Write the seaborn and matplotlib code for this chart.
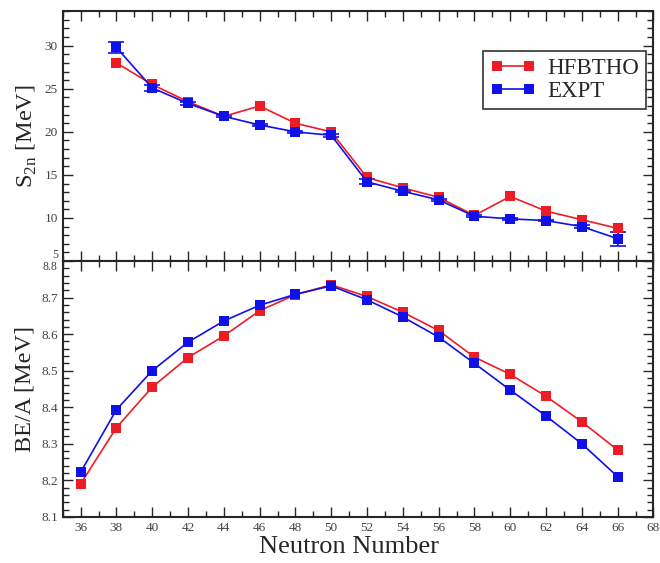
import numpy as np
import pandas as pd
import matplotlib
matplotlib.use("Agg")
import matplotlib.pyplot as plt
import seaborn as sns
from matplotlib.ticker import MultipleLocator

# Two-neutron separation energies (MeV), N = 38..66
n_s2n = [38, 40, 42, 44, 46, 48, 50, 52, 54, 56, 58, 60, 62, 64, 66]
s2n_hfbtho = [28.0, 25.5, 23.5, 21.8, 23.0, 21.0, 20.0, 14.7, 13.5, 12.4, 10.3, 12.5, 10.8, 9.8, 8.8]
s2n_expt = [29.8, 25.1, 23.3, 21.8, 20.8, 20.0, 19.6, 14.2, 13.1, 12.1, 10.2, 9.9, 9.7, 9.0, 7.6]
s2n_expt_err = [0.6, 0.3, 0.2, 0.1, 0.1, 0.1, 0.2, 0.3, 0.1, 0.1, 0.1, 0.1, 0.1, 0.2, 0.8]

# Binding energy per nucleon (MeV), N = 36..66
n_bea = [36, 38, 40, 42, 44, 46, 48, 50, 52, 54, 56, 58, 60, 62, 64, 66]
bea_hfbtho = [8.190, 8.344, 8.455, 8.536, 8.595, 8.664, 8.708, 8.735, 8.703, 8.660,
              8.610, 8.537, 8.490, 8.430, 8.360, 8.283]
bea_expt = [8.222, 8.393, 8.500, 8.578, 8.636, 8.679, 8.709, 8.732, 8.694, 8.647,
            8.592, 8.520, 8.447, 8.376, 8.300, 8.210]

models = ["HFBTHO", "EXPT"]
colors = {"HFBTHO": "#ee1c25", "EXPT": "#1010e8"}

df_s2n = pd.concat([
    pd.DataFrame({"N": n_s2n, "val": s2n_hfbtho, "model": "HFBTHO"}),
    pd.DataFrame({"N": n_s2n, "val": s2n_expt, "model": "EXPT"}),
])
df_bea = pd.concat([
    pd.DataFrame({"N": n_bea, "val": bea_hfbtho, "model": "HFBTHO"}),
    pd.DataFrame({"N": n_bea, "val": bea_expt, "model": "EXPT"}),
])

sns.set_style("ticks")
plt.rcParams["font.family"] = ["Liberation Serif", "DejaVu Serif"]
plt.rcParams["mathtext.fontset"] = "custom"
plt.rcParams["mathtext.rm"] = "Liberation Serif"

fig = plt.figure(figsize=(6.6, 5.63), dpi=100)
gs = fig.add_gridspec(2, 1, height_ratios=[250, 256], hspace=0,
                      left=0.095, right=0.99, top=0.980, bottom=0.082)
ax1 = fig.add_subplot(gs[0])
ax2 = fig.add_subplot(gs[1], sharex=ax1)

# top panel
ax1.errorbar(n_s2n, s2n_expt, yerr=s2n_expt_err, fmt="none", ecolor=colors["EXPT"],
             elinewidth=1.2, capsize=6, capthick=1.2, zorder=1)
sns.lineplot(data=df_s2n, x="N", y="val", hue="model", hue_order=models, palette=colors,
             marker="s", markersize=7, markeredgewidth=0, linewidth=1.2,
             ax=ax1, zorder=3)

# bottom panel
sns.lineplot(data=df_bea, x="N", y="val", hue="model", hue_order=models, palette=colors,
             marker="s", markersize=7, markeredgewidth=0, linewidth=1.2,
             ax=ax2, legend=False)

ax1.set_ylim(5, 34)
ax1.yaxis.set_major_locator(MultipleLocator(5))
ax1.yaxis.set_minor_locator(MultipleLocator(1))
ax2.set_ylim(8.1, 8.8)
ax2.yaxis.set_major_locator(MultipleLocator(0.1))
ax2.yaxis.set_minor_locator(MultipleLocator(0.02))
ax2.set_xlim(35, 68)
ax2.xaxis.set_major_locator(MultipleLocator(2))
ax2.xaxis.set_minor_locator(MultipleLocator(1))

for ax in (ax1, ax2):
    ax.tick_params(which="both", direction="in", top=True, right=True,
                   labelsize=9.5, labelcolor="#444444", width=1)
    ax.tick_params(which="major", length=7)
    ax.tick_params(which="minor", length=4)
    for sp in ax.spines.values():
        sp.set_linewidth(1.5)
ax1.tick_params(labelbottom=False)
ax2.yaxis.set_major_formatter(matplotlib.ticker.FormatStrFormatter("%.1f"))

# the "5" and "8.8" labels sit on the shared edge; nudge them apart
fig.canvas.draw()
for lab in ax1.get_yticklabels():
    if lab.get_text() == "5":
        lab.set_verticalalignment("bottom")
        lab.set_fontsize(8.5)
for lab in ax2.get_yticklabels():
    if lab.get_text() == "8.8":
        lab.set_verticalalignment("top")
        lab.set_fontsize(8.5)

ax1.set_xlabel("")
ax1.set_ylabel(r"S$_{\mathrm{2n}}$ [MeV]", fontsize=17.5)
ax2.set_ylabel("BE/A [MeV]", fontsize=17.5)
ax2.set_xlabel("Neutron Number", fontsize=19)
ax2.xaxis.set_label_coords(0.485, -0.075)

leg = ax1.legend(title=None, loc="upper right", bbox_to_anchor=(0.988, 0.842),
                 fontsize=16.5, frameon=True, fancybox=False, edgecolor="black",
                 numpoints=2, handlelength=2.0, borderpad=0.3, labelspacing=0.1,
                 handletextpad=0.5, borderaxespad=0)
leg.get_frame().set_linewidth(1.2)

fig.savefig("out.png", dpi=100)
